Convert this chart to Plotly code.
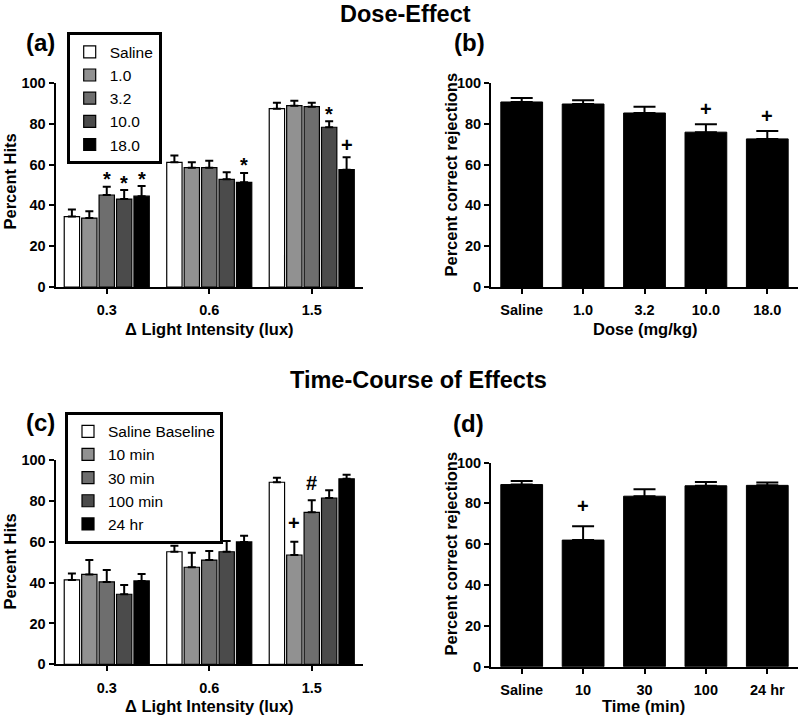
import plotly.graph_objects as go

# ---------------- data ----------------
intensity = ["0.3", "0.6", "1.5"]

# (a) Dose-effect: percent hits
dose_names = ["Saline", "1.0", "3.2", "10.0", "18.0"]
hits_saline = [34.5, 61.1, 87.4]
hits_1_0 = [33.8, 58.5, 88.9]
hits_3_2 = [45.1, 58.5, 88.4]
hits_10_0 = [43.1, 52.8, 78.3]
hits_18_0 = [44.5, 51.3, 57.5]
err_saline = [3.5, 3.3, 2.9]
err_1_0 = [3.3, 2.6, 2.4]
err_3_2 = [4.1, 3.4, 1.9]
err_10_0 = [4.4, 3.4, 2.9]
err_18_0 = [5.0, 4.6, 6.1]

# (b) Dose-effect: percent correct rejections
dose_ticks = ["Saline", "1.0", "3.2", "10.0", "18.0"]
cr_dose = [90.7, 89.7, 85.3, 75.9, 72.6]
cr_dose_err = [2.0, 1.8, 3.0, 3.9, 3.9]

# (c) Time-course: percent hits
time_names = ["Saline Baseline", "10 min", "30 min", "100 min", "24 hr"]
tc_saline = [41.3, 55.1, 89.1]
tc_10 = [44.0, 47.5, 53.5]
tc_30 = [40.3, 51.0, 74.4]
tc_100 = [34.3, 55.1, 81.4]
tc_24 = [40.8, 59.9, 90.8]
tc_err_saline = [3.2, 2.9, 2.2]
tc_err_10 = [7.0, 7.1, 6.5]
tc_err_30 = [5.8, 4.4, 5.9]
tc_err_100 = [4.5, 5.2, 3.8]
tc_err_24 = [3.4, 3.0, 2.0]

# (d) Time-course: percent correct rejections
time_ticks = ["Saline", "10", "30", "100", "24 hr"]
cr_time = [89.2, 62.0, 83.5, 88.6, 88.8]
cr_time_err = [1.7, 6.8, 3.4, 1.8, 1.4]

# significance marks: (series index, category index, symbol)
sig_a = [(2, 0, "*"), (3, 0, "*"), (4, 0, "*"), (4, 1, "*"), (3, 2, "*"), (4, 2, "+")]
sig_b = [(3, "+"), (4, "+")]
sig_c = [(1, 2, "+"), (2, 2, "#")]
sig_d = [(1, "+")]

# ---------------- style ----------------
W, H = 800, 719
FONT = "Arial, Liberation Sans, sans-serif"
grays = ["#ffffff", "#919191", "#6e6e6e", "#4b4b4b", "#000000"]
BARGAP = 0.15
BARGROUPGAP = 0.12


def px(x):
    return x / W


def py(y):
    return 1 - y / H


fig = go.Figure()

dose_vals = [hits_saline, hits_1_0, hits_3_2, hits_10_0, hits_18_0]
dose_errs = [err_saline, err_1_0, err_3_2, err_10_0, err_18_0]
time_vals = [tc_saline, tc_10, tc_30, tc_100, tc_24]
time_errs = [tc_err_saline, tc_err_10, tc_err_30, tc_err_100, tc_err_24]


def grouped(names, vals, errs, xa, ya, legend):
    for i, (nm, v, e) in enumerate(zip(names, vals, errs)):
        fig.add_trace(go.Bar(
            x=intensity, y=v, name=nm, xaxis=xa, yaxis=ya, legend=legend,
            marker=dict(color=grays[i], line=dict(color="black", width=1.2)),
            error_y=dict(type="data", array=e, arrayminus=[0] * len(e), symmetric=False,
                         color="black", thickness=2, width=4),
            offsetgroup=str(i), showlegend=True,
        ))


def single(ticks, vals, errs, xa, ya):
    fig.add_trace(go.Bar(
        x=ticks, y=vals, xaxis=xa, yaxis=ya, width=0.68, showlegend=False,
        marker=dict(color="black", line=dict(color="black", width=1)),
        error_y=dict(type="data", array=errs, arrayminus=[0] * len(errs), symmetric=False,
                     color="black", thickness=2, width=11),
    ))


grouped(dose_names, dose_vals, dose_errs, "x", "y", "legend")
single(dose_ticks, cr_dose, cr_dose_err, "x2", "y2")
grouped(time_names, time_vals, time_errs, "x3", "y3", "legend2")
single(time_ticks, cr_time, cr_time_err, "x4", "y4")

axis_style = dict(
    showline=True, linecolor="black", linewidth=2, ticks="outside", ticklen=5,
    tickwidth=2, tickcolor="black", showgrid=False, zeroline=False, automargin=False,
    tickfont=dict(family=FONT, size=14.5, color="black", weight="bold"),
    fixedrange=True,
)
xstyle = dict(axis_style, ticklabelstandoff=4)

dom_xl = [px(55.5), px(363)]
dom_xr = [px(491), px(798)]
dom_ya = [py(287), py(83)]
dom_yc = [py(664.3), py(460)]
dom_yd = [py(666.7), py(462.5)]

legend_style = dict(xanchor="left", yanchor="top", bgcolor="white", bordercolor="black",
                    borderwidth=3, font=dict(family=FONT, size=15.5, color="black"),
                    traceorder="normal")

fig.update_layout(
    width=W, height=H, margin=dict(l=0, r=0, t=0, b=0, autoexpand=False),
    paper_bgcolor="white", plot_bgcolor="white",
    barmode="group", bargap=BARGAP, bargroupgap=BARGROUPGAP,
    font=dict(family=FONT, color="black"),
    xaxis=dict(domain=dom_xl, anchor="y", type="category", range=[-0.5, 2.5], **xstyle),
    yaxis=dict(domain=dom_ya, anchor="x", range=[0, 100], dtick=20, **axis_style),
    xaxis2=dict(domain=dom_xr, anchor="y2", type="category", range=[-0.5, 4.5], **xstyle),
    yaxis2=dict(domain=dom_ya, anchor="x2", range=[0, 100], dtick=20, **axis_style),
    xaxis3=dict(domain=dom_xl, anchor="y3", type="category", range=[-0.5, 2.5], **xstyle),
    yaxis3=dict(domain=dom_yc, anchor="x3", range=[0, 100], dtick=20, **axis_style),
    xaxis4=dict(domain=dom_xr, anchor="y4", type="category", range=[-0.5, 4.5], **xstyle),
    yaxis4=dict(domain=dom_yd, anchor="x4", range=[0, 100], dtick=20, **axis_style),
    legend=dict(x=px(66.7), y=py(32.3), **legend_style),
    legend2=dict(x=px(65), y=py(411.7), **legend_style),
)

ann = []


def text(x, y, s, size, angle=0, bold=True):
    ann.append(dict(x=px(x), y=py(y), xref="paper", yref="paper", text=s, showarrow=False,
                    xanchor="center", yanchor="middle", textangle=angle,
                    font=dict(family=FONT, size=size, color="black",
                              weight="bold" if bold else "normal")))


# titles
text(405, 14, "Dose-Effect", 23.5)
text(418, 380, "Time-Course of Effects", 23.5)
# panel labels
text(40, 43, "(a)", 24)
text(469, 43, "(b)", 24)
text(40, 422, "(c)", 24)
text(468, 423, "(d)", 24)
# axis titles
text(9.5, 182, "Percent Hits", 16.5, -90)
text(450.5, 175, "Percent correct rejections", 16.5, -90)
text(9.5, 562, "Percent Hits", 16.5, -90)
text(450.5, 554, "Percent correct rejections", 16.5, -90)
text(209.5, 329, "Δ Light Intensity (lux)", 16.5)
text(645, 329, "Dose (mg/kg)", 16.5)
text(209.5, 706, "Δ Light Intensity (lux)", 16.5)
text(643, 706, "Time (min)", 16.5)

# significance marks
slot = (1 - BARGAP) / 5
sym_adj = {"*": -4.5, "+": 0, "#": -2}


def sig_grouped(marks, vals, errs, xr, yr, lift):
    for i, g, s in marks:
        ann.append(dict(x=g + (i - 2) * slot, y=vals[i][g] + errs[i][g], xref=xr, yref=yr,
                        text=s, showarrow=False, xanchor="center", yanchor="middle",
                        yshift=lift + sym_adj[s],
                        font=dict(family=FONT, size=20, color="black", weight="bold")))


def sig_single(marks, vals, errs, xr, yr, lift):
    for i, s in marks:
        ann.append(dict(x=i, y=vals[i] + errs[i], xref=xr, yref=yr,
                        text=s, showarrow=False, xanchor="center", yanchor="middle",
                        yshift=lift + sym_adj[s],
                        font=dict(family=FONT, size=20, color="black", weight="bold")))


sig_grouped(sig_a, dose_vals, dose_errs, "x", "y", 12)
sig_single(sig_b, cr_dose, cr_dose_err, "x2", "y2", 15)
sig_grouped(sig_c, time_vals, time_errs, "x3", "y3", 19)
sig_single(sig_d, cr_time, cr_time_err, "x4", "y4", 20.5)

fig.update_layout(annotations=ann)
fig.write_html("out.html", config={"displayModeBar": False},
               post_script="document.body.style.margin='0px';")
